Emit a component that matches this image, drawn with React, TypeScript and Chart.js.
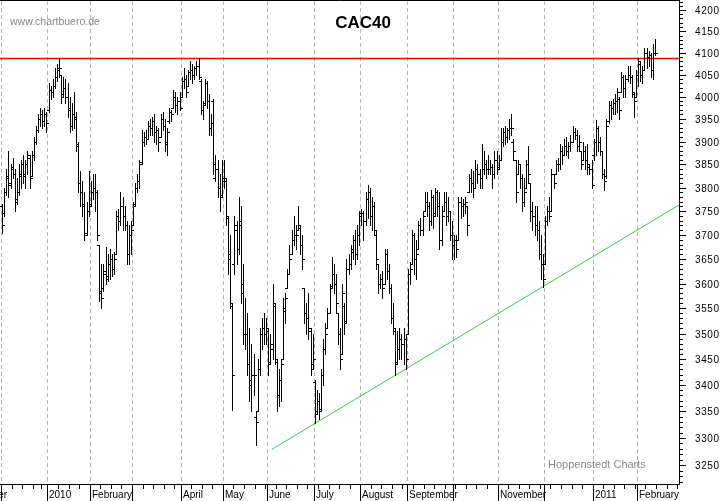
import React, { useEffect, useRef } from 'react';
import { Chart, registerables } from 'chart.js';

Chart.register(...registerables);

// ---- Daily CAC40 bars (index 0 = 1 Dec 2009, one step per trading day) ----
const highs = [
  3765, 3800, 3840, 3880, 3850, 3865, 3840, 3820, 3850, 3860,
  3870, 3860, 3880, 3870, 3880, 3910, 3935, 3960, 3975, 3970,
  3975, 3965, 4030, 4025, 4040, 4065, 4075, 4088, 4050, 4045,
  4040, 4030, 4000, 3985, 4010, 3965, 3900, 3835, 3815, 3790,
  3770, 3835, 3815, 3830, 3830, 3795, 3680, 3640, 3640, 3675,
  3660, 3670, 3660, 3665, 3750, 3755, 3790, 3780, 3760, 3730,
  3720, 3730, 3770, 3810, 3830, 3860, 3925, 3920, 3925, 3945,
  3950, 3955, 3960, 3935, 3930, 3960, 3965, 3950, 3930, 3975,
  3970, 4015, 4010, 4000, 4010, 4045, 4065, 4050, 4060, 4080,
  4075, 4070, 4080, 4088, 4040, 3990, 4040, 4035, 4005, 3960,
  3995, 3870, 3860, 3830, 3860, 3860, 3820, 3740, 3700, 3560,
  3740, 3730, 3780, 3760, 3640, 3570, 3540, 3510, 3480, 3460,
  3350, 3450, 3510, 3530, 3540, 3530, 3510, 3500, 3600, 3560,
  3450, 3430, 3450, 3570, 3580, 3630, 3680, 3710, 3740, 3720,
  3760, 3720, 3700, 3590, 3560, 3580, 3510, 3500, 3410, 3390,
  3385, 3430, 3490, 3520, 3550, 3600, 3655, 3640, 3620, 3540,
  3510, 3600, 3560, 3650, 3660, 3680, 3700, 3710, 3720, 3750,
  3755, 3750, 3790, 3805, 3800, 3780, 3770, 3710, 3640, 3620,
  3625, 3670, 3670, 3640, 3600, 3560, 3510, 3505, 3510, 3500,
  3510, 3500, 3630, 3645, 3710, 3705, 3690, 3730, 3735, 3750,
  3790, 3790, 3770, 3795, 3785, 3800, 3795, 3790, 3760, 3790,
  3790, 3780, 3750, 3730, 3700, 3700, 3780, 3780, 3775, 3780,
  3760, 3830, 3840, 3835, 3860, 3850, 3840, 3895, 3880, 3860,
  3870, 3860, 3850, 3880, 3880, 3870, 3930, 3930, 3935, 3930,
  3950, 3962, 3905, 3860, 3860, 3850, 3830, 3820, 3860, 3890,
  3810, 3770, 3760, 3760, 3730, 3700, 3660, 3740, 3760, 3780,
  3840, 3830, 3860, 3865, 3895, 3890, 3905, 3910, 3900, 3915,
  3935, 3930, 3925, 3915, 3880, 3900, 3890, 3895, 3850, 3860,
  3905, 3948, 3935, 3910, 3880, 3840, 3950, 3990, 3990, 3995,
  4005, 4020, 4000, 4055, 4050, 4050, 4070, 4070, 4050, 4010,
  4060, 4088, 4080, 4070, 4110, 4110, 4105, 4100, 4120, 4132,
];

const lows = [
  3705, 3740, 3785, 3780, 3800, 3820, 3750, 3765, 3785, 3800,
  3810, 3800, 3830, 3800, 3825, 3860, 3895, 3920, 3935, 3930,
  3935, 3920, 3965, 3995, 4000, 4020, 4035, 4045, 3985, 4000,
  3985, 3955, 3920, 3925, 3930, 3880, 3790, 3760, 3740, 3690,
  3700, 3740, 3760, 3775, 3750, 3690, 3565, 3550, 3585, 3600,
  3605, 3610, 3615, 3620, 3660, 3710, 3720, 3710, 3710, 3640,
  3640, 3660, 3720, 3760, 3790, 3800, 3850, 3890, 3895, 3905,
  3915, 3915, 3900, 3895, 3880, 3910, 3925, 3880, 3870, 3940,
  3945, 3975, 3965, 3960, 3970, 4000, 4020, 4000, 4025, 4040,
  4030, 4040, 4050, 4040, 3960, 3950, 3980, 3975, 3915, 3915,
  3830, 3815, 3780, 3750, 3780, 3800, 3720, 3620, 3550, 3352,
  3620, 3640, 3660, 3560, 3480, 3470, 3420, 3370, 3350, 3380,
  3287, 3350, 3420, 3470, 3480, 3480, 3420, 3440, 3450, 3440,
  3350, 3360, 3370, 3450, 3520, 3590, 3620, 3660, 3680, 3670,
  3710, 3660, 3630, 3520, 3500, 3490, 3420, 3430, 3328, 3345,
  3335, 3350, 3400, 3460, 3510, 3540, 3590, 3580, 3540, 3480,
  3430, 3460, 3500, 3520, 3620, 3630, 3650, 3640, 3650, 3680,
  3720, 3690, 3720, 3735, 3720, 3710, 3700, 3630, 3580, 3590,
  3570, 3600, 3610, 3580, 3520, 3500, 3420, 3440, 3450, 3450,
  3440, 3430, 3500, 3600, 3640, 3620, 3610, 3670, 3700, 3700,
  3750, 3740, 3710, 3720, 3715, 3740, 3740, 3670, 3680, 3750,
  3720, 3730, 3690, 3650, 3650, 3655, 3690, 3735, 3740, 3745,
  3700, 3790, 3790, 3780, 3800, 3810, 3800, 3800, 3830, 3820,
  3830, 3830, 3800, 3820, 3830, 3840, 3860, 3890, 3895, 3900,
  3905, 3915, 3860, 3770, 3830, 3800, 3750, 3760, 3800, 3810,
  3730, 3710, 3700, 3690, 3650, 3610, 3592, 3640, 3720, 3730,
  3750, 3800, 3830, 3835, 3840, 3850, 3870, 3870, 3865, 3880,
  3900, 3905, 3880, 3880, 3840, 3860, 3840, 3830, 3830, 3800,
  3860, 3870, 3880, 3870, 3820, 3795, 3820, 3940, 3950, 3960,
  3960, 3965, 3950, 4010, 4000, 4000, 4035, 4030, 4000, 3955,
  4000, 4025, 4035, 4030, 4060, 4065, 4070, 4045, 4040, 4095,
];

const opens = [
  3760, 3745, 3790, 3825, 3805, 3840, 3830, 3775, 3790, 3825,
  3850, 3825, 3850, 3865, 3825, 3870, 3900, 3925, 3950, 3960,
  3945, 3960, 3970, 4015, 4010, 4025, 4045, 4065, 4050, 4005,
  4020, 4000, 3975, 3935, 3960, 3955, 3895, 3810, 3790, 3765,
  3705, 3750, 3765, 3790, 3800, 3790, 3680, 3585, 3590, 3625,
  3615, 3640, 3650, 3630, 3660, 3740, 3730, 3760, 3740, 3720,
  3660, 3700, 3720, 3765, 3800, 3815, 3855, 3900, 3910, 3905,
  3935, 3930, 3945, 3920, 3925, 3910, 3950, 3935, 3895, 3945,
  3965, 3975, 4000, 3980, 3990, 4000, 4035, 4040, 4025, 4055,
  4060, 4050, 4065, 4070, 4035, 3970, 3985, 4030, 3990, 3930,
  3990, 3820, 3840, 3800, 3785, 3820, 3815, 3735, 3660, 3555,
  3640, 3710, 3670, 3730, 3600, 3500, 3500, 3440, 3410, 3420,
  3340, 3350, 3430, 3500, 3510, 3500, 3505, 3445, 3470, 3555,
  3445, 3380, 3410, 3450, 3545, 3590, 3620, 3660, 3690, 3700,
  3710, 3715, 3680, 3590, 3540, 3530, 3505, 3440, 3405, 3350,
  3370, 3355, 3420, 3470, 3510, 3540, 3595, 3620, 3600, 3540,
  3500, 3460, 3555, 3525, 3630, 3640, 3665, 3690, 3660, 3700,
  3745, 3745, 3730, 3775, 3790, 3740, 3760, 3700, 3640, 3600,
  3610, 3600, 3660, 3625, 3590, 3530, 3505, 3445, 3470, 3490,
  3480, 3490, 3500, 3620, 3640, 3700, 3650, 3670, 3720, 3710,
  3750, 3770, 3760, 3730, 3780, 3745, 3790, 3760, 3690, 3750,
  3770, 3740, 3750, 3700, 3680, 3690, 3690, 3770, 3760, 3765,
  3760, 3790, 3820, 3810, 3800, 3840, 3830, 3820, 3840, 3850,
  3840, 3840, 3845, 3830, 3860, 3845, 3860, 3900, 3920, 3910,
  3925, 3930, 3900, 3860, 3830, 3850, 3820, 3770, 3800, 3850,
  3810, 3750, 3740, 3720, 3710, 3660, 3640, 3640, 3730, 3750,
  3750, 3830, 3830, 3850, 3850, 3880, 3870, 3890, 3880, 3890,
  3900, 3920, 3915, 3890, 3880, 3860, 3880, 3860, 3845, 3840,
  3870, 3900, 3930, 3900, 3880, 3830, 3825, 3945, 3980, 3975,
  3985, 3990, 3995, 4010, 4045, 4020, 4040, 4050, 4045, 4005,
  4000, 4050, 4075, 4050, 4060, 4100, 4090, 4095, 4060, 4100,
];

const closes = [
  3720, 3790, 3820, 3810, 3845, 3830, 3770, 3790, 3830, 3850,
  3830, 3850, 3870, 3820, 3870, 3900, 3925, 3950, 3960, 3945,
  3960, 3940, 4015, 4010, 4025, 4045, 4060, 4065, 4000, 4020,
  4000, 3970, 3935, 3960, 3950, 3890, 3810, 3790, 3760, 3700,
  3750, 3760, 3790, 3800, 3790, 3700, 3580, 3570, 3620, 3610,
  3640, 3650, 3630, 3650, 3740, 3730, 3760, 3740, 3720, 3660,
  3700, 3710, 3760, 3800, 3815, 3850, 3900, 3910, 3905, 3935,
  3930, 3945, 3920, 3925, 3900, 3950, 3935, 3900, 3920, 3965,
  3960, 4000, 3980, 3990, 3975, 4035, 4040, 4010, 4055, 4060,
  4050, 4065, 4070, 4045, 3970, 3980, 4030, 3990, 3930, 3940,
  3850, 3840, 3800, 3780, 3815, 3820, 3740, 3650, 3560, 3420,
  3720, 3670, 3720, 3580, 3500, 3500, 3440, 3400, 3420, 3420,
  3330, 3430, 3500, 3510, 3500, 3510, 3440, 3480, 3560, 3450,
  3380, 3410, 3440, 3550, 3570, 3620, 3650, 3690, 3700, 3700,
  3720, 3680, 3650, 3540, 3530, 3510, 3430, 3450, 3345, 3370,
  3350, 3420, 3470, 3500, 3540, 3590, 3620, 3600, 3560, 3500,
  3450, 3580, 3520, 3630, 3640, 3670, 3690, 3660, 3700, 3740,
  3745, 3730, 3775, 3790, 3740, 3760, 3710, 3650, 3600, 3610,
  3590, 3660, 3625, 3590, 3530, 3510, 3440, 3470, 3490, 3480,
  3490, 3450, 3620, 3630, 3700, 3650, 3660, 3720, 3710, 3740,
  3770, 3760, 3730, 3780, 3740, 3790, 3760, 3690, 3740, 3770,
  3740, 3750, 3700, 3680, 3690, 3670, 3770, 3760, 3765, 3770,
  3720, 3820, 3810, 3800, 3840, 3830, 3820, 3840, 3850, 3840,
  3840, 3845, 3830, 3860, 3840, 3860, 3900, 3920, 3910, 3925,
  3930, 3930, 3880, 3790, 3850, 3820, 3770, 3790, 3850, 3830,
  3750, 3740, 3720, 3710, 3660, 3640, 3610, 3730, 3750, 3740,
  3830, 3810, 3850, 3850, 3880, 3870, 3890, 3880, 3890, 3900,
  3920, 3915, 3890, 3900, 3850, 3880, 3860, 3850, 3840, 3805,
  3900, 3930, 3900, 3880, 3830, 3815, 3935, 3980, 3975, 3985,
  3990, 4010, 3970, 4045, 4020, 4040, 4050, 4045, 4010, 3990,
  4050, 4080, 4050, 4060, 4100, 4090, 4095, 4060, 4100, 4100,
];

// ---- Time axis: first trading-day index of each month and its label ----
const monthStarts = [-20, 0, 22, 42, 62, 85, 105, 126, 148, 170, 192, 214, 235, 257, 280, 301];
const monthLabels = ['November', '', '2010', 'February', '', 'April', 'May', 'June', 'July', 'August', 'September', '', 'November', '', '2011', 'February'];
// first trading day of each week (minor ticks)
const weekStarts = [
  5, 10, 15, 19, 27, 32, 37, 47, 52, 57, 67, 72, 77, 82, 90, 95, 100,
  110, 115, 120, 125, 130, 135, 140, 145, 150, 155, 160, 165, 175, 180, 185, 190,
  195, 200, 205, 210, 215, 220, 225, 230, 240, 245, 250, 255, 260, 265, 270, 275,
  285, 290, 295, 300, 305, 310, 315, 320,
];

// ---- Price axis ----
const priceLabels = [3250, 3300, 3350, 3400, 3450, 3500, 3550, 3600, 3650, 3700, 3750, 3800, 3850, 3900, 3950, 4000, 4050, 4100, 4150, 4200];
const priceMinorStep = 10;

// ---- Drawn lines ----
const resistanceLevel = 4087;
const trendDays = [127.75, 320.4];
const trendValues = [3279, 3763];

const X_MIN = -0.975;
const X_MAX = 320.36;
const Y_MIN = 3215.5;
const Y_MAX = 4223.7;

const FONT = '"Liberation Sans", Arial, Helvetica, sans-serif';

const decorPlugin = {
  id: 'decor',
  beforeDatasetsDraw(chart: any) {
    const { ctx, chartArea, scales } = chart;
    const x = scales.x;
    ctx.save();
    ctx.strokeStyle = '#b4b4b4';
    ctx.lineWidth = 1;
    ctx.setLineDash([4, 3]);
    monthStarts.forEach((m) => {
      const px = Math.round(x.getPixelForValue(m - 0.5)) + 0.5;
      if (px < chartArea.left || px > chartArea.right) return;
      ctx.beginPath();
      ctx.moveTo(px, chartArea.top + 1);
      ctx.lineTo(px, chartArea.bottom);
      ctx.stroke();
    });
    ctx.restore();
  },
  afterDatasetsDraw(chart: any) {
    const { ctx, chartArea, scales } = chart;
    const x = scales.x;
    const y = scales.y;
    const { left, right, top, bottom } = chartArea;
    ctx.save();

    // OHLC bars
    ctx.fillStyle = '#000';
    for (let i = 0; i < highs.length; i++) {
      const px = Math.round(x.getPixelForValue(i));
      const yh = Math.round(y.getPixelForValue(highs[i]));
      const yl = Math.round(y.getPixelForValue(lows[i]));
      const yo = Math.round(y.getPixelForValue(opens[i]));
      const yc = Math.round(y.getPixelForValue(closes[i]));
      ctx.fillRect(px, yh, 1, Math.max(1, yl - yh + 1));
      ctx.fillRect(px - 2, yo, 2, 1);
      ctx.fillRect(px + 1, yc, 2, 1);
    }

    // frame
    ctx.strokeStyle = '#000';
    ctx.lineWidth = 1;
    ctx.beginPath();
    ctx.moveTo(left, top + 0.5);
    ctx.lineTo(right + 0.5, top + 0.5);
    ctx.moveTo(right + 0.5, top);
    ctx.lineTo(right + 0.5, bottom + 0.5);
    ctx.moveTo(left, bottom + 0.5);
    ctx.lineTo(right + 0.5, bottom + 0.5);
    ctx.stroke();

    // price axis ticks
    ctx.beginPath();
    for (let v = 3220; v <= 4220; v += priceMinorStep) {
      const py = Math.round(y.getPixelForValue(v)) + 0.5;
      if (py < top || py > bottom) continue;
      const major = priceLabels.includes(v);
      ctx.moveTo(right + 1, py);
      ctx.lineTo(right + 1 + (major ? 6 : 3), py);
    }
    ctx.stroke();

    ctx.fillStyle = '#000';
    ctx.font = `10px ${FONT}`;
    (ctx as any).letterSpacing = '0.6px';
    ctx.textAlign = 'left';
    ctx.textBaseline = 'middle';
    priceLabels.forEach((v) => {
      const py = Math.round(y.getPixelForValue(v));
      ctx.fillText(String(v), 695, py + 1);
    });
    (ctx as any).letterSpacing = '0px';

    // time axis ticks
    ctx.beginPath();
    weekStarts.forEach((w) => {
      const px = Math.round(x.getPixelForValue(w - 0.5)) + 0.5;
      if (px < left || px > right) return;
      ctx.moveTo(px, bottom + 1);
      ctx.lineTo(px, bottom + 5);
    });
    monthStarts.forEach((m) => {
      const px = Math.round(x.getPixelForValue(m - 0.5)) + 0.5;
      if (px < left || px > right) return;
      ctx.moveTo(px, bottom + 1);
      ctx.lineTo(px, chart.height);
    });
    ctx.stroke();

    ctx.font = `10px ${FONT}`;
    ctx.textBaseline = 'alphabetic';
    monthStarts.forEach((m, k) => {
      const label = monthLabels[k];
      if (!label) return;
      const px = Math.round(x.getPixelForValue(m - 0.5));
      ctx.fillText(label, px + 2, 498);
    });

    // texts
    ctx.fillStyle = '#000';
    ctx.font = `bold 17px ${FONT}`;
    ctx.textAlign = 'center';
    ctx.fillText('CAC40', 363, 28);

    ctx.fillStyle = '#8a8a8a';
    ctx.font = `10.5px ${FONT}`;
    ctx.textAlign = 'left';
    ctx.fillText('www.chartbuero.de', 10, 25);
    ctx.font = `11px ${FONT}`;
    ctx.fillText('Hoppenstedt Charts', 548, 468);

    ctx.restore();
  },
};

export default function App() {
  const ref = useRef<HTMLCanvasElement>(null);

  useEffect(() => {
    const canvas = ref.current;
    if (!canvas) return;
    const chart = new Chart(canvas, {
      type: 'line',
      data: {
        datasets: [
          {
            label: 'Resistance',
            data: [
              { x: X_MIN, y: resistanceLevel },
              { x: X_MAX, y: resistanceLevel },
            ],
            borderColor: '#ff0000',
            borderWidth: 1.5,
            pointRadius: 0,
          },
          {
            label: 'Trend',
            data: trendDays.map((d, k) => ({ x: d, y: trendValues[k] })),
            borderColor: '#33cc33',
            borderWidth: 1,
            pointRadius: 0,
          },
        ],
      },
      options: {
        responsive: false,
        animation: false,
        devicePixelRatio: 1,
        layout: { padding: { left: 0, top: 0, right: 44, bottom: 17 } },
        plugins: {
          legend: { display: false },
          tooltip: { enabled: false },
          title: { display: false },
        },
        scales: {
          x: { type: 'linear', display: false, min: X_MIN, max: X_MAX, bounds: 'data' },
          y: { type: 'logarithmic', display: false, min: Y_MIN, max: Y_MAX, bounds: 'data' },
        },
      },
      plugins: [decorPlugin],
    } as any);
    return () => chart.destroy();
  }, []);

  return (
    <div style={{ position: 'absolute', left: 0, top: 0, width: 723, height: 501, background: '#fff' }}>
      <canvas ref={ref} width={723} height={501} style={{ display: 'block', width: 723, height: 501 }} />
    </div>
  );
}
